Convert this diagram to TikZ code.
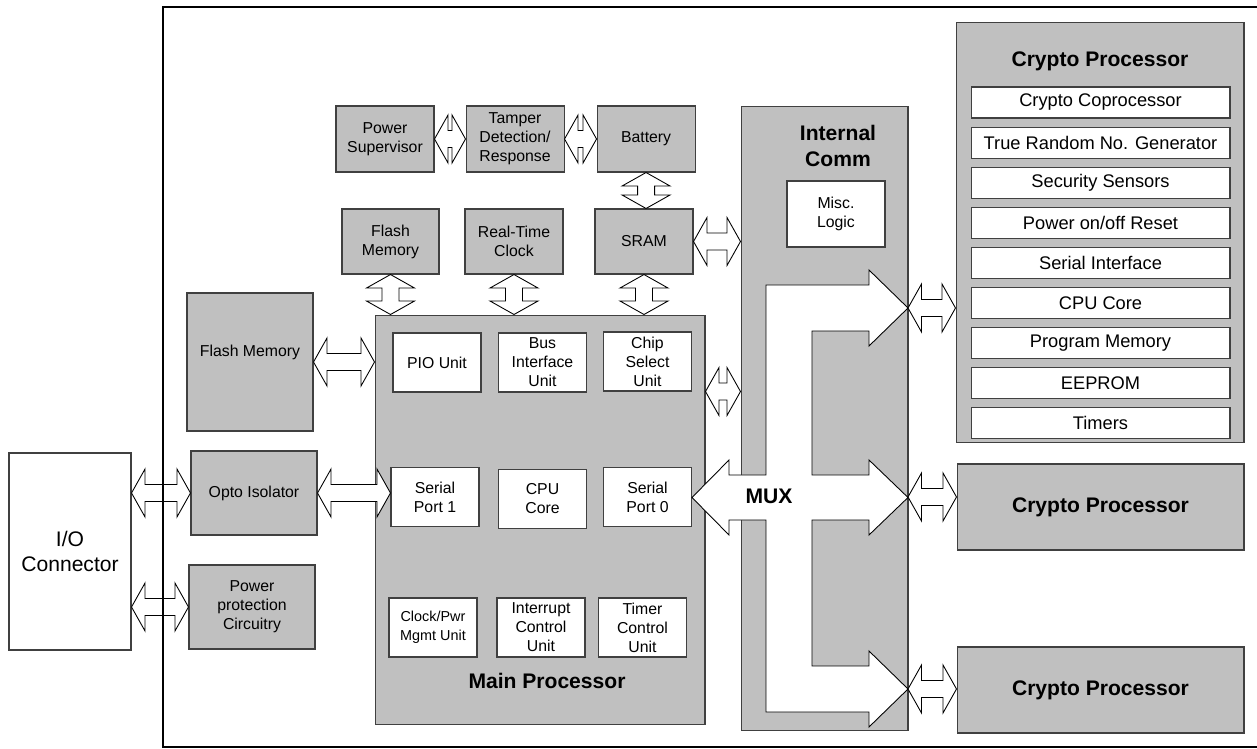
\documentclass[tikz,border=0pt]{standalone}
\usepackage{fontspec}
\setmainfont{Liberation Sans}
\usetikzlibrary{positioning,calc}
\definecolor{boxgray}{RGB}{192,192,192}

% bus arrow sizes
\newcommand{\bushl}{0.27cm}
\newcommand{\bushw}{0.48cm}
\newcommand{\bussw}{0.17cm}
% horizontal bus: left end #1, right end #2 (height of #1)
\newcommand{\hbus}[2]{%
  \draw[bus] let \p1=#1, \p2=#2 in
    (\x1,\y1) -- (\x1+\bushl,\y1+\bushw) -- (\x1+\bushl,\y1+\bussw) -- (\x2-\bushl,\y1+\bussw)
    -- (\x2-\bushl,\y1+\bushw) -- (\x2,\y1) -- (\x2-\bushl,\y1-\bushw) -- (\x2-\bushl,\y1-\bussw)
    -- (\x1+\bushl,\y1-\bussw) -- (\x1+\bushl,\y1-\bushw) -- cycle;}
% vertical bus: top end #1, bottom end #2
\newcommand{\vbus}[2]{%
  \draw[bus] let \p1=#1, \p2=#2 in
    (\x1,\y1) -- (\x1+\bushw,\y1-\bushl) -- (\x1+\bussw,\y1-\bushl) -- (\x1+\bussw,\y2+\bushl)
    -- (\x1+\bushw,\y2+\bushl) -- (\x1,\y2) -- (\x1-\bushw,\y2+\bushl) -- (\x1-\bussw,\y2+\bushl)
    -- (\x1-\bussw,\y1-\bushl) -- (\x1-\bushw,\y1-\bushl) -- cycle;}

\begin{document}
\begin{tikzpicture}[
  x=0.02cm, y=-0.02cm,
  gbox/.style={rectangle, draw=black!75, line width=0.6pt, fill=boxgray, align=center,
               inner sep=1pt, font=\fontsize{9}{10.8}\selectfont},
  wbox/.style={gbox, fill=white},
  topbox/.style={gbox, minimum width=1.96cm, minimum height=1.32cm},
  unit/.style={wbox, minimum width=1.76cm, minimum height=1.18cm},
  item/.style={wbox, minimum width=5.18cm, minimum height=0.62cm, font=\fontsize{10.4}{12}\selectfont},
  title/.style={align=center, font=\bfseries\fontsize{12}{14.3}\selectfont},
  bus/.style={draw=black, fill=white, line width=0.5pt, line join=miter},
  frame/.style={line width=1.6pt}
]
\useasboundingbox (0,0) rectangle (1257,749);

% left side
\node[wbox, minimum width=2.44cm, minimum height=3.94cm, font=\fontsize{12}{14.5}\selectfont] (io) at (70,551.5) {I/O\\Connector};
\node[gbox, minimum width=2.52cm, minimum height=1.68cm] (opto) at (254,493) {Opto Isolator};
\node[gbox, minimum width=2.52cm, minimum height=1.68cm] (pwr) at (252,607) {Power\\protection\\Circuitry};
\node[gbox, minimum width=2.52cm, minimum height=2.76cm, label={[yshift=0.2cm, font=\fontsize{9}{10.8}\selectfont]center:Flash Memory}] (flashL) at (250,362) {};

% top rows
\node[topbox] (psup) at (385,139) {Power\\Supervisor};
\node[topbox, right=0.62cm of psup] (tamper) {Tamper\\Detection/\\Response};
\node[topbox, right=0.64cm of tamper] (battery) {Battery};
\node[topbox, minimum width=1.94cm, minimum height=1.3cm] (flashS) at (390.5,241.5) {Flash\\Memory};
\node[topbox, minimum height=1.3cm] (rtc) at (514,241.5) {Real-Time\\Clock};
\node[topbox, minimum height=1.3cm] (sram) at (644,241.5) {SRAM};

% main processor
\node[gbox, minimum width=6.6cm, minimum height=8.2cm] (main) at (540,520) {};
\node[unit] (pio) at (437,362.5) {PIO Unit};
\node[unit] (biu) at (542.5,362.5) {Bus\\Interface\\Unit};
\node[unit] (csu) at (647.5,361.5) {Chip\\Select\\Unit};
\node[unit] (sp1) at (435,497) {Serial\\Port 1};
\node[unit] (cpu) at (542.5,499) {CPU\\Core};
\node[unit] (sp0) at (647.5,497) {Serial\\Port 0};
\node[unit, font=\fontsize{8.2}{10.8}\selectfont] (clk) at (433,627.5) {Clock/Pwr\\Mgmt Unit};
\node[unit] (icu) at (541,627.5) {Interrupt\\Control\\Unit};
\node[unit] (tcu) at (642.5,627.5) {Timer\\Control\\Unit};
\node[title] (mainlbl) at (547,681) {Main Processor};

% internal comm + mux
\node[gbox, minimum width=3.34cm, minimum height=12.5cm] (ic) at (824.5,418.5) {};
\node[title] (iclbl) at (838,146) {Internal\\Comm};
\node[wbox, minimum width=1.96cm, minimum height=1.32cm] (misc) at (836,214) {Misc.\\Logic};
\draw[bus] (766,285) -- (869,285) -- (869,270) -- (908,308) -- (869,346) -- (869,331) -- (812,331)
  -- (812,475) -- (869,475) -- (869,460) -- (908,497.5) -- (869,535) -- (869,520) -- (812,520)
  -- (812,666) -- (869,666) -- (869,651) -- (908,689) -- (869,727) -- (869,712) -- (766,712)
  -- (766,520) -- (729,520) -- (729,535) -- (692,497.5) -- (729,460) -- (729,475) -- (766,475) -- cycle;
\node[title] (muxlbl) at (769,496) {MUX};
\coordinate (m1) at (908,308);
\coordinate (m2) at (908,497);
\coordinate (m3) at (908,689);

% crypto processors
\node[gbox, minimum width=5.76cm, minimum height=8.42cm] (cp1) at (1100,232.5) {};
\node[title] (cp1lbl) at (1100,61) {Crypto Processor};
\node[item] (c1) at (1100.5,102.5) {Crypto Coprocessor};
\node[item, below=0.16cm of c1] (c2) {True Random No. Generator};
\node[item, below=0.16cm of c2] (c3) {Security Sensors};
\node[item, below=0.16cm of c3] (c4) {Power on/off Reset};
\node[item, below=0.16cm of c4] (c5) {Serial Interface};
\node[item, below=0.16cm of c5] (c6) {CPU Core};
\node[item, below=0.16cm of c6] (c7) {Program Memory};
\node[item, below=0.16cm of c7] (c8) {EEPROM};
\node[item, below=0.16cm of c8] (c9) {Timers};
\node[gbox, minimum width=5.74cm, minimum height=1.72cm, font=\bfseries\fontsize{12}{14.3}\selectfont] (cp2) at (1100.5,507) {Crypto Processor};
\node[gbox, minimum width=5.74cm, minimum height=1.72cm, font=\bfseries\fontsize{12}{14.3}\selectfont] (cp3) at (1100.5,690) {Crypto Processor};

% buses
\hbus{(io.east |- opto.west)}{(opto.west)}
\hbus{(io.east |- pwr.west)}{(pwr.west)}
\hbus{(opto.east)}{(sp1.west)}
\hbus{(flashL.east)}{(flashL.east -| main.west)}
\hbus{(psup.east)}{(tamper.west)}
\hbus{(tamper.east)}{(battery.west)}
\vbus{(battery.south)}{(sram.north)}
\vbus{(flashS.south)}{(flashS.south |- main.north)}
\vbus{(rtc.south)}{(rtc.south |- main.north)}
\vbus{(sram.south)}{(sram.south |- main.north)}
\hbus{(sram.east)}{(sram.east -| ic.west)}
\hbus{(main.east |- csu.south)}{(csu.south -| ic.west)}
\hbus{(m1)}{(m1 -| cp1.west)}
\hbus{(m2)}{(m2 -| cp2.west)}
\hbus{(m3)}{(m3 -| cp3.west)}

% enclosure
\draw[frame] (1257,7) -- (163,7) -- (163,747) -- (1257,747);
\end{tikzpicture}
\end{document}
